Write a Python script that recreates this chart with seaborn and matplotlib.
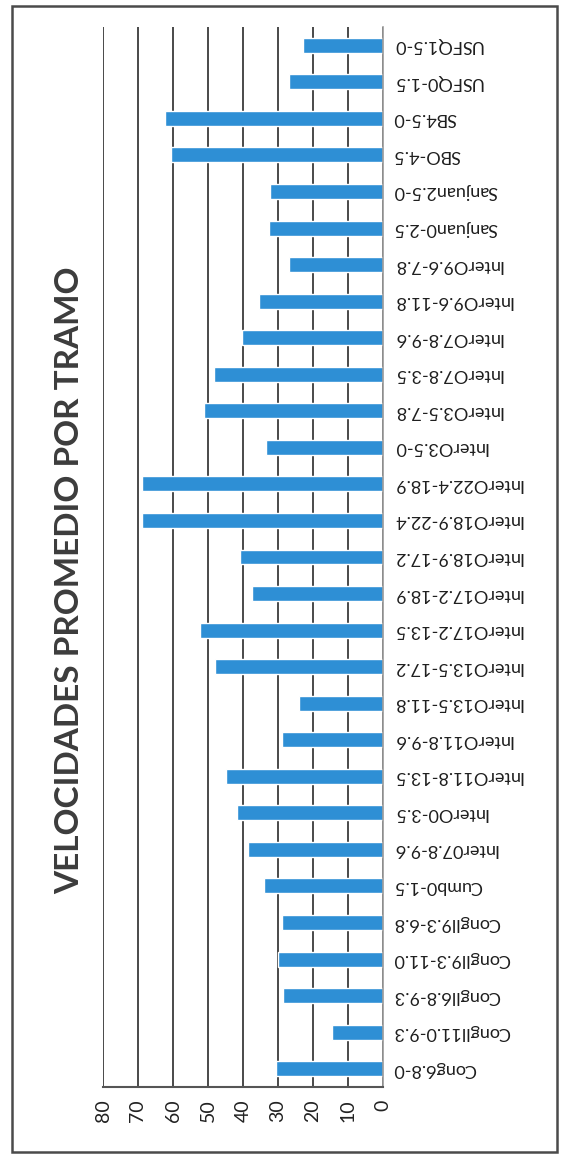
import matplotlib
matplotlib.use("Agg")
import matplotlib.pyplot as plt
from matplotlib.patches import Rectangle
import seaborn as sns
import pandas as pd

# Average speed per road segment (km/h)
tramos = [
    "Cong6.8-0", "Congll11.0-9.3", "Congll6.8-9.3", "Congll9.3-11.0", "Congll9.3-6.8",
    "Cumb0-1.5", "Inter07.8-9.6", "InterO0-3.5", "InterO11.8-13.5", "InterO11.8-9.6",
    "InterO13.5-11.8", "InterO13.5-17.2", "InterO17.2-13.5", "InterO17.2-18.9",
    "InterO18.9-17.2", "InterO18.9-22.4", "InterO22.4-18.9", "InterO3.5-0",
    "InterO3.5-7.8", "InterO7.8-3.5", "InterO7.8-9.6", "InterO9.6-11.8",
    "InterO9.6-7.8", "Sanjuan0-2.5", "Sanjuan2.5-0", "SBO-4.5", "SB4.5-0",
    "USFQ0-1.5", "USFQ1.5-0",
]
velocidades = [
    30.7, 14.5, 28.6, 30.0, 28.9,
    34.1, 38.5, 41.7, 45.0, 29.0,
    24.1, 47.9, 52.2, 37.5,
    40.8, 68.9, 68.8, 33.5,
    51.1, 48.3, 40.3, 35.3,
    26.9, 32.5, 32.2, 60.5, 62.4,
    27.0, 22.9,
]
ticks_vel = [0, 10, 20, 30, 40, 50, 60, 70, 80]
titulo = "VELOCIDADES PROMEDIO POR TRAMO"

df = pd.DataFrame({"tramo": tramos, "velocidad": velocidades})

sns.set_theme(style="white")
plt.rcParams["font.family"] = ["Lato", "DejaVu Sans"]

W, H = 564, 1158
fig = plt.figure(figsize=(W / 100, H / 100), dpi=100)
fig.patch.set_facecolor("white")

ax = fig.add_axes([103 / W, 71 / H, 280 / W, 1060 / H])
sns.barplot(data=df, x="velocidad", y="tramo", orient="h", color="#2e8fd5",
            saturation=1, width=0.41, ax=ax)

# value axis runs right-to-left, first segment at the bottom
ax.set_xlim(80, 0)
ax.set_ylim(-0.5, len(tramos) - 0.5)
ax.set_xticks(ticks_vel)
ax.set_xticklabels([str(t) for t in ticks_vel], rotation=90, fontsize=14,
                   color="#222222")
ax.set_xlabel("")
ax.set_ylabel("")

ax.grid(axis="x", color="#2a2a2a", linewidth=1.2)
ax.grid(axis="y", visible=False)
ax.set_axisbelow(True)

ax.yaxis.tick_right()
for lab in ax.get_yticklabels():
    lab.set_rotation(180)
    lab.set_ha("left")
    lab.set_va("center")
    lab.set_fontsize(13)
    lab.set_color("#1e1e1e")

ax.tick_params(axis="y", length=0, pad=7)
ax.tick_params(axis="x", length=0, pad=9)

for side in ["top", "left"]:
    ax.spines[side].set_visible(False)
ax.spines["right"].set_color("#9a9a9a")
ax.spines["right"].set_linewidth(1.2)
ax.spines["bottom"].set_color("#555555")
ax.spines["bottom"].set_linewidth(1.5)

fig.text(70 / W, 1 - 580 / H, titulo, rotation=90, ha="center", va="center",
         fontsize=24, fontweight="bold", color="#3c3c3c")

# outer chart border
fig.patches.append(Rectangle((12 / W, 6 / H), 545 / W, 1146 / H,
                             transform=fig.transFigure, fill=False,
                             edgecolor="#4a4a4a", linewidth=1.8))

fig.savefig("out.png", dpi=100)
